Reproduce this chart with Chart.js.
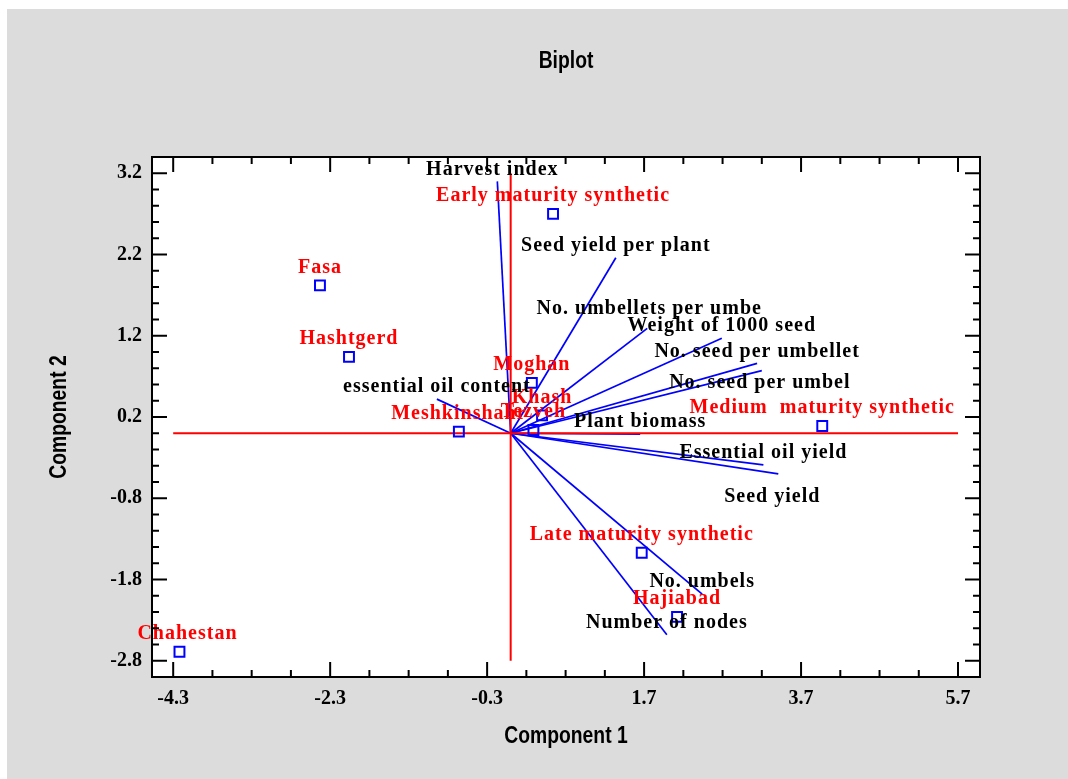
<!DOCTYPE html>
<html>
<head>
<meta charset="utf-8">
<title>Biplot</title>
<script src="https://cdn.jsdelivr.net/npm/chart.js@4.4.1/dist/chart.umd.min.js"></script>
<style>
  html, body { margin: 0; padding: 0; background: #fff; }
  #wrap { position: absolute; left: 7px; top: 9px; width: 1061px; height: 770px; background: #dcdcdc; }
</style>
</head>
<body>
<div id="wrap"><canvas id="biplot" width="1061" height="770"></canvas></div>
<script>
// samples (blue squares, red names)
const sampleNames = ['Early maturity synthetic', 'Fasa', 'Hashtgerd', 'Moghan', 'Meshkinshahr', 'Khash', 'Tezveh',
    'Medium  maturity synthetic', 'Late maturity synthetic', 'Hajiabad', 'Chahestan'];
const sampleX = [0.54, -2.43, -2.06, 0.27, -0.66, 0.40, 0.29, 3.97, 1.67, 2.12, -4.22];
const sampleY = [2.70, 1.82, 0.94, 0.62, 0.02, 0.22, 0.04, 0.09, -1.47, -2.26, -2.69];

// traits (blue vectors, black names)
const traitNames = ['Harvest index', 'Seed yield per plant', 'No. umbellets per umbe', 'Weight of 1000 seed',
    'No. seed per umbellet', 'No. seed per umbel', 'Plant biomass', 'Essential oil yield', 'Seed yield',
    'essential oil content', 'No. umbels', 'Number of nodes'];
const traitX = [-0.17, 1.34, 1.74, 2.69, 3.14, 3.20, 1.65, 3.22, 3.41, -0.94, 2.44, 1.99];
const traitY = [3.10, 2.16, 1.29, 1.17, 0.86, 0.77, -0.01, -0.39, -0.50, 0.42, -1.98, -2.48];

const xTicks = [-4.3, -2.3, -0.3, 1.7, 3.7, 5.7];
const yTicks = [-2.8, -1.8, -0.8, 0.2, 1.2, 2.2, 3.2];

// label nudges in pixels [dx, dy], default is centred above the mark
const labelShift = {
    'Chahestan': [8, -18],
    'Harvest index': [-5, -12],
    'No. umbellets per umbe': [2, -20],
    'No. seed per umbel': [-2, 12],
    'Seed yield': [-6, 23]
};

const SERIF = "'Liberation Serif', 'Times New Roman', serif";
const SANS = "'Liberation Sans', Arial, sans-serif";

const biplotPlugin = {
    id: 'biplot',
    beforeDraw(chart) {
        const { ctx, chartArea: a } = chart;
        ctx.save();
        ctx.fillStyle = '#fff';
        ctx.fillRect(a.left, a.top, a.right - a.left, a.bottom - a.top);
        ctx.restore();
    },
    afterDatasetsDraw(chart) {
        const { ctx } = chart;
        const xs = chart.scales.x, ys = chart.scales.y;
        ctx.save();
        ctx.font = 'bold 20px ' + SERIF;
        ctx.letterSpacing = '1px';
        ctx.textAlign = 'center';
        ctx.textBaseline = 'middle';

        ctx.fillStyle = '#ff0000';
        sampleNames.forEach((name, i) => {
            const s = labelShift[name] || [0, -18];
            ctx.fillText(name, xs.getPixelForValue(sampleX[i]) + s[0], ys.getPixelForValue(sampleY[i]) + s[1]);
        });

        ctx.fillStyle = '#000';
        traitNames.forEach((name, i) => {
            const s = labelShift[name] || [0, -12];
            ctx.fillText(name, xs.getPixelForValue(traitX[i]) + s[0], ys.getPixelForValue(traitY[i]) + s[1]);
        });
        ctx.restore();
    },
    afterDraw(chart) {
        const { ctx, chartArea: a } = chart;
        const xs = chart.scales.x, ys = chart.scales.y;
        ctx.save();
        ctx.strokeStyle = '#000';
        ctx.lineWidth = 2;
        ctx.strokeRect(a.left, a.top, a.right - a.left, a.bottom - a.top);

        const seg = (x1, y1, x2, y2) => {
            ctx.beginPath();
            ctx.moveTo(x1, y1);
            ctx.lineTo(x2, y2);
            ctx.stroke();
        };

        // inward ticks on all four sides
        xTicks.forEach((v, i) => {
            const px = xs.getPixelForValue(v);
            seg(px, a.bottom, px, a.bottom - 15);
            seg(px, a.top, px, a.top + 15);
            if (i < xTicks.length - 1) {
                for (let k = 1; k < 4; k++) {
                    const mx = xs.getPixelForValue(v + k * 0.5);
                    seg(mx, a.bottom, mx, a.bottom - 7);
                    seg(mx, a.top, mx, a.top + 7);
                }
            }
        });
        yTicks.forEach((v, i) => {
            const py = ys.getPixelForValue(v);
            seg(a.left, py, a.left + 15, py);
            seg(a.right, py, a.right - 15, py);
            if (i < yTicks.length - 1) {
                for (let k = 1; k < 5; k++) {
                    const my = ys.getPixelForValue(v + k * 0.2);
                    seg(a.left, my, a.left + 7, my);
                    seg(a.right, my, a.right - 7, my);
                }
            }
        });

        // titles, squeezed horizontally to look like a narrow face
        const cx = (a.left + a.right) / 2;
        const cy = (a.top + a.bottom) / 2;
        const narrow = (text, x, y, rot) => {
            ctx.save();
            ctx.translate(x, y);
            if (rot) ctx.rotate(-Math.PI / 2);
            ctx.scale(0.84, 1);
            ctx.fillText(text, 0, 0);
            ctx.restore();
        };
        ctx.fillStyle = '#000';
        ctx.textAlign = 'center';
        ctx.textBaseline = 'middle';
        ctx.font = 'bold 23px ' + SANS;
        narrow('Biplot', cx, 53, false);
        narrow('Component 1', cx, 728, false);
        narrow('Component 2', 53, cy, true);
        ctx.restore();
    }
};

const datasets = [
    {
        label: 'samples',
        data: sampleX.map((x, i) => ({ x: x, y: sampleY[i] })),
        pointStyle: 'rect',
        pointRadius: 7,
        borderColor: '#0000ff',
        backgroundColor: 'rgba(0,0,0,0)',
        borderWidth: 2,
        order: 0
    },
    {
        label: 'axis h',
        data: [{ x: xTicks[0], y: 0 }, { x: xTicks[xTicks.length - 1], y: 0 }],
        showLine: true,
        borderColor: '#ff0000',
        borderWidth: 2,
        pointRadius: 0,
        order: 1
    },
    {
        label: 'axis v',
        data: [{ x: 0, y: yTicks[0] }, { x: 0, y: yTicks[yTicks.length - 1] }],
        showLine: true,
        borderColor: '#ff0000',
        borderWidth: 2,
        pointRadius: 0,
        order: 1
    }
];
traitNames.forEach((name, i) => {
    datasets.push({
        label: name,
        data: [{ x: 0, y: 0 }, { x: traitX[i], y: traitY[i] }],
        showLine: true,
        borderColor: '#0000ff',
        borderWidth: 1.7,
        pointRadius: 0,
        order: 2
    });
});

const tickFont = { family: SERIF, size: 20, weight: 'bold' };

const config = {
    type: 'scatter',
    data: { datasets: datasets },
    options: {
        responsive: false,
        animation: false,
        layout: { padding: { top: 148, right: 88, left: 0, bottom: 0 } },
        plugins: {
            legend: { display: false },
            tooltip: { enabled: false }
        },
        scales: {
            x: {
                type: 'linear',
                min: -4.57,
                max: 5.98,
                grid: { display: false, drawTicks: false },
                border: { display: false },
                ticks: {
                    font: tickFont,
                    color: '#000',
                    padding: 10,
                    autoSkip: false,
                    maxRotation: 0,
                    callback: v => v.toFixed(1)
                },
                afterBuildTicks: s => { s.ticks = xTicks.map(v => ({ value: v })); },
                afterFit: s => { s.height = 102; }
            },
            y: {
                type: 'linear',
                min: -3.0,
                max: 3.4,
                grid: { display: false, drawTicks: false },
                border: { display: false },
                ticks: {
                    font: tickFont,
                    color: '#000',
                    padding: 10,
                    autoSkip: false,
                    callback: v => v.toFixed(1)
                },
                afterBuildTicks: s => { s.ticks = yTicks.map(v => ({ value: v })); },
                afterFit: s => { s.width = 145; }
            }
        }
    },
    plugins: [biplotPlugin]
};

new Chart(document.getElementById('biplot'), config);
</script>
</body>
</html>
